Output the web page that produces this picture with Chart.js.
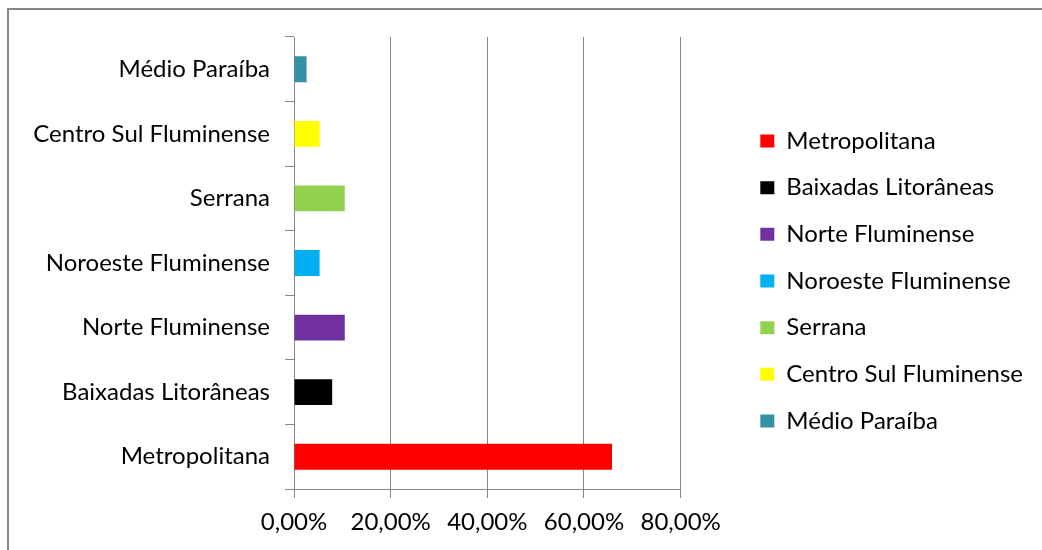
<!DOCTYPE html>
<html>
<head>
<meta charset="utf-8">
<script src="https://cdn.jsdelivr.net/npm/chart.js@4.4.1/dist/chart.umd.min.js"></script>
<style>
  html, body { margin: 0; padding: 0; background: #fff; overflow: hidden; }
  #frame { position: absolute; left: 7px; top: 8px; width: 1100px; height: 600px;
           border-left: 2px solid #888; border-top: 2px solid #888; }
  #wrap { position: absolute; left: 0; top: 0; width: 1042px; height: 550px; }
</style>
</head>
<body>
<div id="frame"></div>
<div id="wrap"><canvas id="barChart" width="1042" height="550"></canvas></div>
<script>
(function () {
    "use strict";

// regiões (ordem da legenda, de cima para baixo)
var regioes = ['Metropolitana', 'Baixadas Litorâneas', 'Norte Fluminense',
               'Noroeste Fluminense', 'Serrana', 'Centro Sul Fluminense', 'Médio Paraíba'];
var percentuais = [65.8, 7.9, 10.5, 5.3, 10.5, 5.3, 2.6];
var cores = ['#FF0000', '#000000', '#7030A0', '#00B0F0', '#92D050', '#FFFF00', '#3591A5'];
var eixoX = [0, 20, 40, 60, 80];

var fonte = { family: 'Lato', size: 24 };
var cinza = '#868686';

// empurra a legenda para a direita/cima depois do layout
var ajusteLegenda = {
    id: 'ajusteLegenda',
    afterLayout: function (chart) {
        var lg = chart.legend;
        lg.left += 57; lg.right += 57;
        lg.top -= 6; lg.bottom -= 6;
    }
};

var ctx = document.getElementById('barChart');
var myChart = new Chart(ctx, {
    type: 'bar',
    data: {
        labels: regioes,
        datasets: [{
            data: percentuais,
            backgroundColor: cores,
            barPercentage: 0.8,
            categoryPercentage: 0.5
        }]
    },
    plugins: [ajusteLegenda],
    options: {
        responsive: false,
        animation: false,
        indexAxis: 'y',
        layout: { padding: { top: 37, bottom: 13, left: 0, right: 66 } },
        plugins: {
            tooltip: { enabled: false },
            legend: {
                position: 'right',
                maxWidth: 400,
                labels: {
                    color: '#000',
                    font: fonte,
                    boxWidth: 14,
                    boxHeight: 13,
                    padding: 22.67,
                    generateLabels: function (chart) {
                        return chart.data.labels.map(function (l, i) {
                            return { text: l, fillStyle: cores[i], strokeStyle: cores[i],
                                     lineWidth: 0, hidden: false, index: i, fontColor: '#000' };
                        });
                    }
                }
            }
        },
        scales: {
            x: {
                min: 0,
                max: 80,
                afterBuildTicks: function (scale) {
                    scale.ticks = eixoX.map(function (v) { return { value: v }; });
                },
                afterFit: function (scale) { scale.height = 48; },
                grid: { color: cinza, lineWidth: 1, tickLength: 9 },
                border: { display: true, color: cinza, width: 1 },
                ticks: {
                    color: '#000',
                    font: fonte,
                    padding: 10,
                    maxRotation: 0,
                    callback: function (v) { return v.toFixed(2).replace('.', ',') + '%'; }
                }
            },
            y: {
                reverse: true,
                afterFit: function (scale) { scale.width = 294; },
                grid: { color: cinza, lineWidth: 1, drawOnChartArea: false, tickLength: 9, offset: true },
                border: { display: true, color: cinza, width: 1 },
                ticks: { color: '#000', font: fonte, padding: 15 }
            }
        }
    }
});

})();
</script>
</body>
</html>
